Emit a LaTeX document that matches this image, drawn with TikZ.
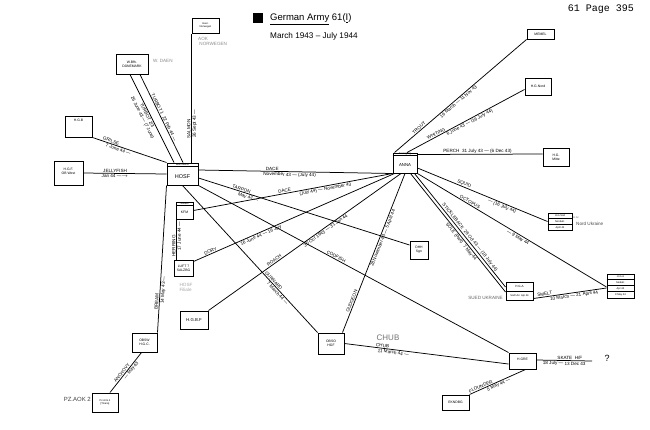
\documentclass[tikz,border=0pt]{standalone}
\usepackage{fontspec}
\setmainfont{Liberation Sans}
\newfontfamily\monof{Liberation Mono}
\usetikzlibrary{calc}
\newcommand\lblf{\fontsize{4.6}{5}\selectfont}
\newcommand\bxf{\fontsize{3.4}{3.8}\selectfont}
\newcommand\tnf{\fontsize{2.6}{2.9}\selectfont}
\begin{document}
\begin{tikzpicture}[x=1pt,y=-1pt,
  box/.style={draw, line width=1pt, inner sep=0pt},
  bxt/.style={font=\bxf, align=center, inner sep=0pt},
  tny/.style={font=\tnf, align=center, inner sep=0pt},
  lbl/.style={font=\lblf, sloped, inner sep=0.8pt},
  link/.style={line width=0.75pt},
  faint/.style={text=black!45, font=\lblf, inner sep=0pt}]
\useasboundingbox[fill=white] (0,0) rectangle (650,429);

% ---- title ----
\node[fill=black, minimum size=10pt, inner sep=0pt] (tsq) at (258,18) {};
\node[anchor=west, inner sep=0pt, font=\fontsize{9.5}{10}\selectfont] (t1) at (270,19) {\underline{German Army} 61(\underline{I})};
\node[anchor=west, inner sep=0pt, font=\fontsize{8.2}{9}\selectfont] (t2) at (270,36) {March 1943 -- July 1944};
\node[anchor=east, inner sep=0pt, font=\monof\fontsize{10}{10}\selectfont] (pg) at (634,9) {61 Page 395};

% ---- boxes ----
\node[box, minimum width=31pt, minimum height=22pt] (hosf) at (182.5,174) {};
\draw[line width=0.6pt] ($(hosf.north west)+(0,4)$) -- ($(hosf.north east)+(0,4)$);
\node[tny] (hosfh) at ($(hosf.north)+(0,2)$) {Wehrmacht};
\node[bxt, font=\fontsize{5.5}{6}\selectfont] (hosft) at ($(hosf.center)+(0,3)$) {HOSF};

\node[box, minimum width=24pt, minimum height=20pt] (anna) at (405,163) {};
\draw[line width=0.6pt] ($(anna.north west)+(0,3)$) -- ($(anna.north east)+(0,3)$);
\node[tny] (annah) at ($(anna.north)+(0,1.6)$) {Koenigsbg};
\node[bxt, font=\fontsize{4.3}{5}\selectfont] (annat) at ($(anna.center)+(0,2)$) {ANNA};

\node[box, minimum width=17pt, minimum height=17pt] (kfm) at (184.5,210.5) {};
\draw[line width=0.5pt] ($(kfm.north west)+(0,4)$) -- ($(kfm.north east)+(0,4)$);
\node[tny] (kfmh) at ($(kfm.north)+(0,2)$) {Sonder};
\node[bxt] (kfmt) at ($(kfm.center)+(0,2)$) {KFM};

\node[box, minimum width=19pt, minimum height=16pt] (luft) at (183.5,268) {};
\node[bxt] (luftt) at (luft.center) {LUFT 7\\SALZBG};

\node[box, minimum width=18pt, minimum height=18pt] (dhh) at (419,250) {};
\node[bxt] (dhht) at (dhh.center) {DHH\\Sgn};

\node[box, minimum width=28pt, minimum height=18pt] (hgbf) at (194,320) {};
\node[bxt, font=\fontsize{4.3}{5}\selectfont] (hgbft) at (hgbf.center) {H.G.B.F};

\node[box, minimum width=25pt, minimum height=19pt] (hgc) at (144.5,342.5) {};
\node[bxt] (hgct) at (hgc.center) {OBSW\\H.G.C.};

\node[box, minimum width=26pt, minimum height=19pt] (pzarm) at (105,402.5) {};
\node[tny] (pzarmt) at (pzarm.center) {Pz.Arm.2\\{[}Tirana{]}};

\node[box, minimum width=26pt, minimum height=21pt] (hgf) at (331,343.5) {};
\node[bxt] (hgft) at (hgf.center) {OBSO\\HGF};

\node[box, minimum width=27pt, minimum height=16pt] (hgre) at (522.5,361) {};
\node[bxt] (hgret) at ($(hgre.center)+(0,-2)$) {H.GRE};

\node[box, minimum width=27pt, minimum height=15pt] (ekn) at (455.5,402.5) {};
\node[bxt] (eknt) at (ekn.center) {EKNDBG};

\node[box, minimum width=27pt, minimum height=10pt] (memel) at (540.5,34) {};
\node[bxt] (memelt) at (memel.center) {MEMEL};

\node[box, minimum width=26pt, minimum height=17pt] (hgnord) at (538,86.5) {};
\node[bxt] (hgnordt) at (hgnord.center) {H.G.Nord};

\node[box, minimum width=26pt, minimum height=18pt] (mitte) at (556,157) {};
\node[bxt] (mittet) at (mitte.center) {H.G.\\Mitte};

\node[box, minimum width=24pt, minimum height=17pt] (nordukr) at (560,221.5) {};
\draw[line width=0.5pt] ($(nordukr.north west)+(0,5.7)$) -- ($(nordukr.north east)+(0,5.7)$);
\draw[line width=0.5pt] ($(nordukr.north west)+(0,11.3)$) -- ($(nordukr.north east)+(0,11.3)$);
\node[tny] (nu1) at ($(nordukr.north)+(0,2.9)$) {H.G.S\"ud};
\node[tny] (nu2) at ($(nordukr.center)$) {Nordukr.};
\node[tny] (nu3) at ($(nordukr.south)+(0,-2.9)$) {April 44};

\node[box, minimum width=27pt, minimum height=24pt] (hga4) at (620.5,286) {};
\draw[line width=0.5pt] ($(hga4.north west)+(0,6)$) -- ($(hga4.north east)+(0,6)$);
\draw[line width=0.5pt] ($(hga4.north west)+(0,12)$) -- ($(hga4.north east)+(0,12)$);
\draw[line width=0.5pt] ($(hga4.north west)+(0,18)$) -- ($(hga4.north east)+(0,18)$);
\node[tny] (ha1) at ($(hga4.north)+(0,3)$) {H.G.A};
\node[tny] (ha2) at ($(hga4.north)+(0,9)$) {S\"udukr.};
\node[tny] (ha3) at ($(hga4.north)+(0,15)$) {Apr 44};
\node[tny] (ha4) at ($(hga4.north)+(0,21)$) {9 May 44};

\node[box, minimum width=27pt, minimum height=18pt] (hga) at (519.5,291) {};
\draw[line width=0.5pt] (hga.west) -- (hga.east);
\node[tny, font=\fontsize{3}{3.3}\selectfont] (hg1) at ($(hga.north)+(0,4.5)$) {H.G.A};
\node[tny] (hg2) at ($(hga.south)+(0,-4.5)$) {S\"ud Ukr.\ Apr 44};

\node[box, minimum width=27pt, minimum height=21pt] (hgb) at (78.5,126.5) {};
\node[bxt] (hgbt) at ($(hgb.north)+(0,5)$) {H.G.B};

\node[box, minimum width=29pt, minimum height=24pt] (obwest) at (68.5,173) {};
\node[bxt] (obwestt) at ($(obwest.center)+(0,-2)$) {H.G.F.\\OB West};

\node[box, minimum width=32pt, minimum height=20pt] (daen) at (132,64) {};
\node[bxt] (daent) at (daen.center) {W.Bfh.\\D\"ANEMARK};

\node[box, minimum width=27pt, minimum height=15pt] (norw) at (205.5,25.5) {};
\node[tny] (norwt) at (norw.center) {Heer.\\Norwegen};

% ---- free texts ----
\node[faint, anchor=north west, align=left] (aok) at (198,37) {AOK\\ \ NORWEGEN};
\node[faint, anchor=west] (wdn) at (153,61) {W. DAEN};
\node[faint, anchor=east, text=black!60] (sued) at (503,298) {SUED UKRAINE};
\node[faint, anchor=west, text=black!70] (nukr) at (576,224) {Nord Ukraine};
\node[tny, anchor=west, text=black!60] (nukrh) at (573,218) {H.Gr};
\node[faint, anchor=east, text=black!75, font=\fontsize{6}{6}\selectfont] (pzaok) at (91,399) {PZ.AOK 2};
\node[faint, align=left, text=black!35] (filiale) at (186,287) {HOSF\\ Filiale};
\node[faint, text=black!55, font=\fontsize{8}{8}\selectfont] (chubf) at (388,338) {CHUB};
\node[inner sep=0pt, font=\fontsize{9}{9}\selectfont] (qm) at (607,358) {?};
\coordinate (skt) at (592,361);

% ---- connectors ----
\draw[link] (hosf.north -| norw.south west) -- node[lbl,above,pos=0.26]{SALMON} node[lbl,below,pos=0.3]{26 Sept 43 ---} (norw.south west);
\draw[link] ($(daen.south)+(-2,0)$) -- node[lbl,below,pos=0.45,align=center]{TURBOT 2/3 \\ 26 June 43 --- (7 June)} ($(hosf.north)+(-8.5,0)$);
\draw[link] ($(daen.south)+(8,0)$) -- node[lbl,above,pos=0.5]{TURBOT 1 \ 22 Feb 44 ---} ($(hosf.north)+(0.5,0)$);
\draw[link] (hgb.south east) -- node[lbl,above,pos=0.24]{GRILSE} node[lbl,below,pos=0.36]{7 June 44 ---} (hosf.north west);
\draw[link] (obwest.east) -- node[lbl,above,pos=0.38]{JELLYFISH} node[lbl,below,pos=0.38]{Jan 44 ---$\rightarrow$} (hosf.west);
\draw[link] ($(hosf.east)+(0,-4)$) -- node[lbl,above,pos=0.38]{DACE} node[lbl,below,pos=0.47]{November 43 --- (July 44)} (anna.south west);
\draw[link] (kfm.east) -- node[lbl,above,pos=0.46]{DACE} node[lbl,below,pos=0.66]{(July 44) --- November 43} (anna.south west);
\draw[link] ($(hosf.east)+(0,4)$) -- node[lbl,above,pos=0.2]{TARPON} node[lbl,below,pos=0.24]{May 43 ---} ($(dhh.west)+(0,-5)$);
\draw[link] ($(luft.north east)+(0,2)$) -- node[lbl,above,pos=0.09]{DORY} node[lbl,below,pos=0.33]{16 June 44 --- 16 July} ($(anna.south west)+(2,0)$);
\draw[link] (hgbf.north east) -- node[lbl,above,pos=0.35]{ROACH} node[lbl,below,pos=0.6]{30 Oct 1943 --- 31 Jan 44} ($(anna.south)+(-4,0)$);
\draw[link] (hosf.south) -- node[lbl,above,pos=0.66]{GURNARD} node[lbl,below,pos=0.72]{7 March 44 ---} (hgf.north west);
\draw[link] (hosf.south east) -- node[lbl,above,pos=0.44]{CODFISH} (hgre.north west);
\draw[link] ($(hgf.north east)+(-2,0)$) -- node[lbl,above,pos=0.19]{GUDGEON} node[lbl,below,pos=0.6]{28 November 43 --- 5 April 44} (anna.south);
\draw[link] (hgf.east) -- node[lbl,above,pos=0.23]{CHUB} node[lbl,below,pos=0.3]{11 March 44 ---} ($(hgre.west)+(0,3)$);
\draw[link] (hgc.north east) -- node[lbl,above,pos=0.21]{BREAM} node[lbl,below,pos=0.29]{14 May 43 ---} (hosf.south west);
\draw[link] ($(pzarm.north)+(5,0)$) -- node[lbl,above,pos=0.45]{ANCHOVY} node[lbl,below,pos=0.6]{--- May 43} ($(hgc.south)+(-3,0)$);
\coordinate (kt) at ($(kfm.south west)+(1,0)$);
\draw[link] (kt |- luft.north) -- node[lbl,above,pos=0.34]{HERRING} node[lbl,below,pos=0.58]{17 June 44 ---} (kt);
\draw[link] ($(anna.north west)+(2,0)$) -- node[lbl,above,pos=0.2]{TROUT} node[lbl,below,pos=0.47]{16 March --- 11 Nov 43} (memel.south west);
\draw[link] ($(anna.north)+(2,0)$) -- node[lbl,above,pos=0.26]{WHITING} node[lbl,below,pos=0.52]{6 June 43 --- (16 July 44)} ($(hgnord.west)+(0,3)$);
\draw[link] ($(anna.north east)+(0,2)$) -- node[lbl,above,pos=0.48]{PERCH \ 31 July 43 --- (6 Dec 43)} ($(mitte.west)+(0,-3)$);
\draw[link] ($(anna.east)+(0,5)$) -- node[lbl,above,pos=0.35]{SQUID} node[lbl,below,pos=0.66]{--- (16 July 44)} (nordukr.west);
\draw[link] (anna.south east) -- node[lbl,above,pos=0.27]{OCTOPUS} node[lbl,below,pos=0.54]{--- 9 May 44} ($(hga4.west)+(0,1)$);
\draw[link] ($(anna.south east)+(-3,0)$) -- node[lbl,above,pos=0.58]{STICKLEBACK \ 28 Oct 43 --- (18 July 44)} ($(hga.west)+(0,-4)$);
\draw[link] ($(anna.south east)+(-7,0)$) -- node[lbl,below,pos=0.56]{SOLE (Part) \ 7 May 44} ($(hga.west)+(0,1)$);
\draw[link] ($(hga.south east)+(0,-2)$) -- node[lbl,above,pos=0.16]{SMELT} node[lbl,below,pos=0.55]{10 March --- 21 April 44} ($(hga4.west)+(0,2)$);
\draw[link] ($(hgre.east)+(0,-1)$) -- node[lbl,above,pos=0.6]{SKATE \ H/F} node[lbl,below,pos=0.5]{18 July --- 13 Dec 43} (skt);
\draw[link] (ekn.north east) -- node[lbl,above,pos=0.22]{FLOUNDER} node[lbl,below,pos=0.5]{5 May 44 ---} ($(hgre.south)+(3,0)$);
\end{tikzpicture}
\end{document}
